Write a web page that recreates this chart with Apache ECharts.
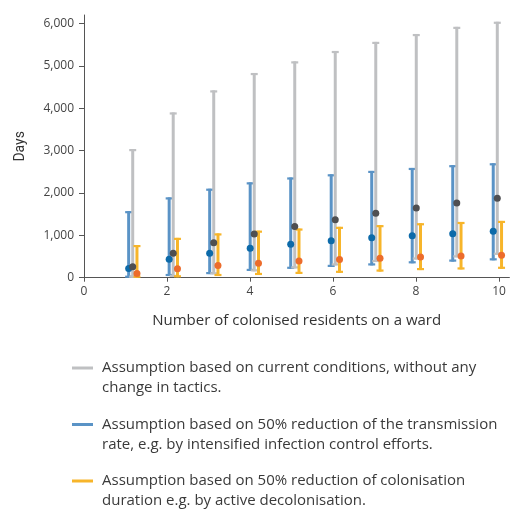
<!DOCTYPE html>
<html>
<head>
<meta charset="utf-8">
<script src="https://cdn.jsdelivr.net/npm/echarts@6/dist/echarts.min.js"></script>
<style>html,body{margin:0;padding:0;background:#fff;}#c{width:527px;height:522px;}</style>
</head>
<body>
<div id="c"></div>
<script>
const categories = [1, 2, 3, 4, 5, 6, 7, 8, 9, 10];
const xTicks = [0, 2, 4, 6, 8, 10];
const yTicks = [0, 1000, 2000, 3000, 4000, 5000, 6000];

const greyMean = [260, 575, 825, 1030, 1210, 1370, 1520, 1645, 1765, 1875];
const greyLow  = [0, 20, 80, 150, 220, 290, 370, 430, 480, 540];
const greyHigh = [3035, 3900, 4420, 4830, 5105, 5350, 5565, 5750, 5920, 6040];

const blueMean = [220, 435, 575, 695, 790, 870, 940, 990, 1040, 1095];
const blueLow  = [0, 40, 85, 160, 210, 255, 290, 340, 380, 410];
const blueHigh = [1570, 1895, 2100, 2250, 2365, 2440, 2520, 2590, 2655, 2700];

const yelMean = [100, 210, 285, 340, 395, 430, 460, 490, 515, 530];
const yelLow  = [0, 10, 40, 65, 90, 115, 145, 180, 195, 210];
const yelHigh = [770, 940, 1045, 1110, 1160, 1200, 1240, 1285, 1315, 1340];

const names = [
  'Assumption based on current conditions, without any\nchange in tactics.',
  'Assumption based on 50% reduction of the transmission\nrate, e.g. by intensified infection control efforts.',
  'Assumption based on 50% reduction of colonisation\nduration e.g. by active decolonisation.'
];

const C = {
  greyBar: '#bfc0c2', greyDot: '#4f4f51',
  blueBar: '#5a93c6', blueDot: '#0c6aa9',
  yelBar: '#f7b52a', yelDot: '#ec6c2c'
};
const OFF = { blue: -0.1, grey: 0, yel: 0.105 };

function errData(low, high, off) {
  return categories.map((c, i) => [c + off, low[i], high[i]]);
}
function dotData(mean, off) {
  return categories.map((c, i) => [c + off, mean[i]]);
}
function errRender(color) {
  return function (params, api) {
    const x = api.value(0);
    const p1 = api.coord([x, api.value(1)]);
    const p2 = api.coord([x, api.value(2)]);
    const hw = 3.5;
    return {
      type: 'group',
      children: [
        { type: 'line', shape: { x1: p1[0], y1: p1[1], x2: p2[0], y2: p2[1] }, style: { stroke: color, lineWidth: 3 } },
        { type: 'line', shape: { x1: p1[0] - hw, y1: p1[1] - 1, x2: p1[0] + hw, y2: p1[1] - 1 }, style: { stroke: color, lineWidth: 2.2 } },
        { type: 'line', shape: { x1: p2[0] - hw, y1: p2[1] + 1, x2: p2[0] + hw, y2: p2[1] + 1 }, style: { stroke: color, lineWidth: 2.2 } }
      ]
    };
  };
}

const chart = echarts.init(document.getElementById('c'), null, { renderer: 'canvas' });
const font = 'Open Sans';
chart.setOption({
  animation: false,
  textStyle: { fontFamily: font },
  grid: { left: 84, right: 17.6, top: 15, bottom: 244.3, containLabel: false },
  xAxis: [
    {
      type: 'value', min: 0, max: 10.25, interval: 2,
      name: 'Number of colonised residents on a ward',
      nameLocation: 'middle', nameGap: 36,
      nameTextStyle: { fontSize: 15, color: '#333', fontFamily: font },
      axisLine: { onZero: false, lineStyle: { color: '#555', width: 1 } },
      axisTick: { show: true, length: 4, customValues: xTicks, lineStyle: { color: '#555' } },
      axisLabel: { customValues: xTicks, margin: 8, fontSize: 12, color: '#444', fontFamily: font },
      splitLine: { show: false }
    },
    {
      type: 'value', min: -0.2024, max: 10.299, show: false,
      axisLine: { show: false }, axisTick: { show: false }, axisLabel: { show: false }, splitLine: { show: false }
    }
  ],
  yAxis: {
    type: 'value', min: 0, max: 6200,
    name: 'Days', nameLocation: 'middle', nameGap: 57,
    nameTextStyle: { fontSize: 14, color: '#333', fontFamily: 'Roboto' },
    axisLine: { show: true, lineStyle: { color: '#555', width: 1 } },
    axisTick: { show: true, length: 5, customValues: yTicks, lineStyle: { color: '#555' } },
    axisLabel: {
      customValues: yTicks, margin: 10, fontSize: 12, color: '#444', fontFamily: font,
      formatter: v => Number(v).toLocaleString('en-US')
    },
    splitLine: { show: false }
  },
  legend: {
    data: names,
    orient: 'vertical',
    left: 72, top: 338,
    padding: 0,
    itemWidth: 21, itemHeight: 3,
    itemGap: -3.5,
    icon: 'rect',
    selectedMode: false,
    formatter: n => '\n' + n,
    textStyle: { fontSize: 15, color: '#3a3a3a', lineHeight: 20, padding: [0, 0, 0, 4], fontFamily: font }
  },
  series: [
    { name: names[1], type: 'custom', xAxisIndex: 1, renderItem: errRender(C.blueBar), itemStyle: { color: C.blueBar }, data: errData(blueLow, blueHigh, OFF.blue), encode: { x: 0, y: [1, 2] }, z: 2 },
    { name: names[0], type: 'custom', xAxisIndex: 1, renderItem: errRender(C.greyBar), itemStyle: { color: C.greyBar }, data: errData(greyLow, greyHigh, OFF.grey), encode: { x: 0, y: [1, 2] }, z: 2 },
    { name: names[2], type: 'custom', xAxisIndex: 1, renderItem: errRender(C.yelBar), itemStyle: { color: C.yelBar }, data: errData(yelLow, yelHigh, OFF.yel), encode: { x: 0, y: [1, 2] }, z: 2 },
    { name: 'blueMean', type: 'scatter', xAxisIndex: 1, symbolSize: 7, itemStyle: { color: C.blueDot, opacity: 1 }, data: dotData(blueMean, OFF.blue), z: 3 },
    { name: 'greyMean', type: 'scatter', xAxisIndex: 1, symbolSize: 7, itemStyle: { color: C.greyDot, opacity: 1 }, data: dotData(greyMean, OFF.grey), z: 3 },
    { name: 'yelMean', type: 'scatter', xAxisIndex: 1, symbolSize: 7, itemStyle: { color: C.yelDot, opacity: 1 }, data: dotData(yelMean, OFF.yel), z: 3 }
  ]
});
</script>
</body>
</html>
